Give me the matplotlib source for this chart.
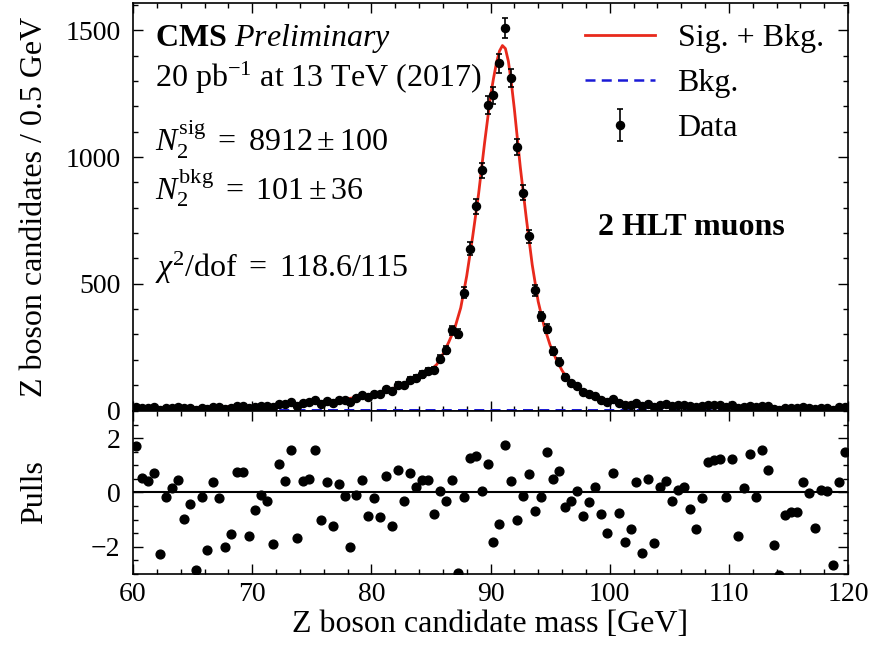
import numpy as np
import matplotlib.pyplot as plt
from matplotlib.ticker import MultipleLocator

plt.rcParams["font.family"] = ["Liberation Serif", "DejaVu Serif"]
plt.rcParams["mathtext.fontset"] = "custom"
plt.rcParams["mathtext.rm"] = "Liberation Serif"
plt.rcParams["mathtext.it"] = "Liberation Serif:italic"
plt.rcParams["mathtext.bf"] = "Liberation Serif:bold"

# 0.5 GeV bins from 60 to 120 GeV
mass = np.arange(60.25, 120.0, 0.5)

counts = [
    14, 11, 11, 12, 3, 10, 11, 13, 8, 10,
    2, 11, 5, 14, 13, 7, 9, 18, 18, 10,
    14, 18, 18, 12, 26, 24, 32, 17, 29, 32,
    40, 27, 37, 30, 43, 43, 34, 51, 60, 54,
    64, 64, 85, 75, 102, 100, 121, 127, 142, 156,
    160, 205, 240, 316, 303, 465, 638, 805, 947, 1206,
    1243, 1370, 1509, 1311, 1039, 860, 687, 474, 371, 322,
    234, 193, 131, 107, 96, 72, 66, 59, 42, 33,
    46, 29, 20, 20, 29, 16, 24, 15, 23, 25,
    19, 21, 20, 16, 12, 17, 22, 22, 22, 15,
    20, 9, 15, 19, 13, 19, 16, 6, 2, 10,
    10, 10, 13, 11, 7, 11, 11, 3, 12, 15,
]

pulls = [
    1.70, 0.53, 0.43, 0.71, -2.26, -0.15, 0.18, 0.47, -0.97, -0.42,
    -2.85, -0.15, -2.12, 0.37, -0.21, -2.02, -1.53, 0.74, 0.74, -1.60,
    -0.66, -0.09, -0.33, -1.89, 1.05, 0.43, 1.57, -1.69, 0.41, 0.49,
    1.57, -1.01, 0.37, -1.23, 0.31, -0.12, -2.02, -0.09, 0.47, -0.85,
    -0.21, -0.91, 0.62, -1.23, 0.84, -0.33, 0.71, 0.22, 0.47, 0.47,
    -0.79, 0.07, -0.31, 0.47, -2.98, -0.15, 1.27, 1.35, 0.04, 1.06,
    -1.81, -1.17, 1.73, 0.43, -1.01, -0.12, 0.68, -0.68, -0.15, 1.49,
    0.49, 0.80, -0.52, -0.33, 0.07, -0.86, -0.36, 0.22, -0.79, -1.48,
    0.71, -0.74, -1.81, -1.35, 0.37, -2.24, 0.49, -1.87, 0.22, 0.41,
    -0.33, 0.10, 0.22, -0.60, -1.34, -0.21, 1.12, 1.18, 1.23, -0.18,
    1.23, -1.62, 0.16, 1.43, -0.17, 1.55, 0.81, -1.93, -3.04, -0.82,
    -0.73, -0.73, 0.37, -0.02, -1.32, 0.10, 0.07, -2.67, 0.37, 1.48,
]

# fitted Sig. + Bkg. curve
fit_mass = [60, 62, 64, 66, 68, 70, 72, 74, 76, 78, 80, 81, 82, 83, 84, 85, 85.5,
            86, 86.5, 87, 87.5, 88, 88.5, 89, 89.5, 90, 90.25, 90.5, 90.75, 91,
            91.25, 91.5, 91.75, 92, 92.5, 93, 93.5, 94, 94.5, 95, 95.5, 96, 96.5,
            97, 97.5, 98, 98.5, 99, 99.5, 100, 101, 102, 103, 104, 106, 108, 110,
            112, 114, 116, 118, 120]
fit_vals = [9, 10, 11, 12.5, 14.5, 17, 20.5, 26, 34, 46, 63, 75, 90, 108, 131, 160, 182,
            222, 270, 325, 405, 530, 685, 855, 1055, 1240, 1310, 1372, 1418, 1440,
            1428, 1378, 1292, 1190, 960, 760, 575, 430, 332, 258, 203, 158, 122,
            102, 86, 73, 62, 52, 44, 40, 31, 27, 24, 22, 19.5, 17, 15,
            13.5, 12, 11, 10.5, 10]

# background-only component
bkg_mass = [60, 90, 120]
bkg_vals = [1.0, 0.85, 0.7]

RED = "#e8291c"
BLUE = "#1a1ad6"
FS = 23


def style_axis(ax):
    ax.tick_params(which="both", direction="in", top=True, right=True,
                   labelsize=20, width=1.0)
    ax.tick_params(which="major", length=7)
    ax.tick_params(which="minor", length=3.5)
    ax.tick_params(axis="y", which="major", pad=9)
    ax.tick_params(axis="x", which="major", pad=6)
    for s in ax.spines.values():
        s.set_linewidth(1.2)


def main():
    fig = plt.figure(figsize=(8.85, 6.46), dpi=100)
    ax = fig.add_axes([0.1503, 0.3638, 0.8079, 0.6316])
    axp = fig.add_axes([0.1503, 0.1115, 0.8079, 0.2523], sharex=ax)

    sig, = ax.plot(fit_mass, fit_vals, color=RED, lw=2.0, zorder=2)
    bkg, = ax.plot(bkg_mass, bkg_vals, color=BLUE, lw=1.8, ls=(0, (4, 2.5)), zorder=2)
    data = ax.errorbar(mass, counts, yerr=np.sqrt(counts), fmt="o", color="black",
                       ms=5.8, elinewidth=1.2, capsize=2, capthick=1.2, zorder=3)

    ax.set_xlim(60, 120)
    ax.set_ylim(-2, 1608)
    ax.yaxis.set_major_locator(MultipleLocator(500))
    ax.yaxis.set_minor_locator(MultipleLocator(100))
    ax.xaxis.set_major_locator(MultipleLocator(10))
    ax.xaxis.set_minor_locator(MultipleLocator(2))
    style_axis(ax)
    ax.tick_params(labelbottom=False)
    ax.set_ylabel("Z boson candidates / 0.5 GeV", fontsize=FS)
    ax.yaxis.set_label_coords(-0.118, 0.5)

    ax.legend([sig, bkg, data], ["Sig. + Bkg.", "Bkg.", "Data"], loc="upper left",
              bbox_to_anchor=(0.632, 0.95), frameon=False, fontsize=FS,
              handlelength=2.2, handletextpad=0.7, labelspacing=0.5,
              borderpad=0, borderaxespad=0)

    tx = 0.031
    ax.text(tx, 0.914, r"$\mathbf{CMS}$ $\mathit{Preliminary}$", transform=ax.transAxes,
            fontsize=FS, va="center")
    ax.text(tx, 0.816, r"20 pb$^{-1}$ at 13 TeV (2017)", transform=ax.transAxes,
            fontsize=FS, va="center")
    ax.text(tx, 0.664, r"$N_2^{\mathrm{sig}}\ =\ 8912 \pm 100$", transform=ax.transAxes,
            fontsize=FS, va="center")
    ax.text(tx, 0.549, r"$N_2^{\mathrm{bkg}}\ =\ 101 \pm 36$", transform=ax.transAxes,
            fontsize=FS, va="center")
    ax.text(tx, 0.35, r"$\chi^2/\mathrm{dof}\ =\ 118.6/115$", transform=ax.transAxes,
            fontsize=FS, va="center")
    ax.text(0.650, 0.449, "2 HLT muons", transform=ax.transAxes, fontsize=FS,
            fontweight="bold", va="center")

    axp.scatter(mass, pulls, s=40, color="black", zorder=3, clip_on=True)
    axp.axhline(0, color="black", lw=1.5, zorder=2)
    axp.set_ylim(-3, 3)
    axp.yaxis.set_major_locator(MultipleLocator(2))
    axp.yaxis.set_minor_locator(MultipleLocator(0.5))
    style_axis(axp)
    axp.set_ylabel("Pulls", fontsize=FS)
    axp.yaxis.set_label_coords(-0.118, 0.5)
    axp.set_xlabel("Z boson candidate mass [GeV]", fontsize=FS, labelpad=2)

    fig.savefig("out.png", dpi=100)


if __name__ == "__main__":
    main()
